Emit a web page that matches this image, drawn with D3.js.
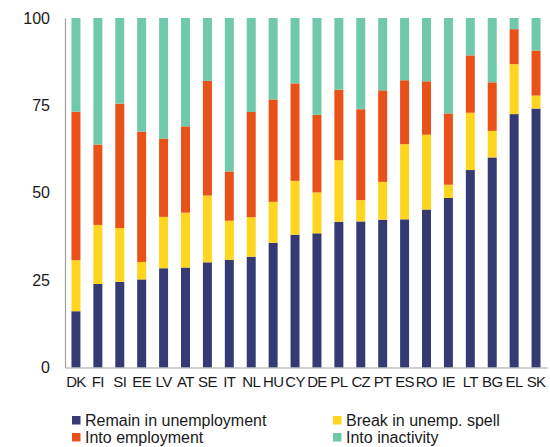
<!DOCTYPE html>
<html>
<head>
<meta charset="utf-8">
<script src="https://cdn.jsdelivr.net/npm/d3@7"></script>
<style>
html,body{margin:0;padding:0;background:#fff;}
svg{display:block;font-family:"Liberation Sans",Arial,sans-serif;}
</style>
</head>
<body>
<svg id="chart" width="550" height="447"></svg>
<script>
const countries = ["DK","FI","SI","EE","LV","AT","SE","IT","NL","HU","CY","DE","PL","CZ","PT","ES","RO","IE","LT","BG","EL","SK"];
const remainUnemp = [16.1,23.9,24.5,25.2,28.4,28.6,30.1,30.8,31.7,35.7,38.0,38.4,41.7,41.8,42.3,42.4,45.2,48.5,56.5,60.1,72.5,74.1];
const breakSpell  = [14.6,16.9,15.4,5.0,14.7,15.7,19.1,11.2,11.3,11.7,15.4,11.7,17.6,6.1,10.8,21.5,21.4,3.8,16.4,7.6,14.3,3.7];
const intoEmp     = [42.5,23.0,35.6,37.3,22.4,24.7,32.8,14.1,30.1,29.3,27.9,22.2,20.2,26.0,26.2,18.3,15.3,20.4,16.4,13.9,10.0,12.9];
const intoInact   = [26.8,36.2,24.5,32.5,34.5,31.0,18.0,43.9,26.9,23.3,18.7,27.7,20.5,26.1,20.7,17.8,18.1,27.3,10.7,18.4,3.2,9.3];
const seriesNames = ["Remain in unemployment","Break in unemp. spell","Into employment","Into inactivity"];
const seriesKeys = ["remain","brk","emp","inact"];
const colors = ["#363A73","#FFD520","#E95119","#6FC9AA"];
const yTicks = [0,25,50,75,100];

const rows = countries.map((c,i)=>({country:c, remain:remainUnemp[i], brk:breakSpell[i], emp:intoEmp[i], inact:intoInact[i]}));
const stacked = d3.stack().keys(seriesKeys)(rows);

const svg = d3.select("#chart");
const x = d3.scaleBand().domain(countries).range([65,547]).paddingInner(0.59).paddingOuter(0.295);
const y = d3.scaleLinear().domain([0,100]).range([367.5,18]);
const color = d3.scaleOrdinal().domain(seriesKeys).range(colors);

svg.append("g").selectAll("g").data(stacked).join("g")
  .attr("fill", d=>color(d.key))
  .selectAll("rect").data(d=>d).join("rect")
  .attr("x", d=>x(d.data.country))
  .attr("width", x.bandwidth())
  .attr("y", d=>y(d[1]))
  .attr("height", d=>y(d[0])-y(d[1]));

// y axis
const yAxis = svg.append("g").attr("transform","translate(65,0)")
  .call(d3.axisLeft(y).tickValues(yTicks).tickSize(0).tickPadding(15));
yAxis.select(".domain").attr("stroke","#a0a0a0").attr("stroke-width",1.2);
yAxis.selectAll("text").attr("font-size",16).attr("fill","#1a1a1a").attr("font-family","Liberation Sans, Arial, sans-serif");

// x axis
const xAxis = svg.append("g").attr("transform","translate(0,367.5)")
  .call(d3.axisBottom(x).tickSize(0).tickPadding(9));
xAxis.select(".domain").attr("stroke","#a0a0a0").attr("stroke-width",1.2);
xAxis.selectAll("text").attr("font-size",15).attr("fill","#1a1a1a").attr("letter-spacing","-0.6")
  .attr("font-family","Liberation Sans, Arial, sans-serif");

// legend
const legendPos = [[72,416],[333,416],[72,433],[333,433]];
const lg = svg.append("g");
seriesNames.forEach((name,i)=>{
  const [lx,ly] = legendPos[i];
  lg.append("rect").attr("x",lx).attr("y",ly).attr("width",8.5).attr("height",8.5).attr("fill",colors[i]);
  lg.append("text").attr("x",lx+13).attr("y",ly+10).attr("font-size",16).attr("fill","#1a1a1a").text(name);
});
</script>
</body>
</html>
